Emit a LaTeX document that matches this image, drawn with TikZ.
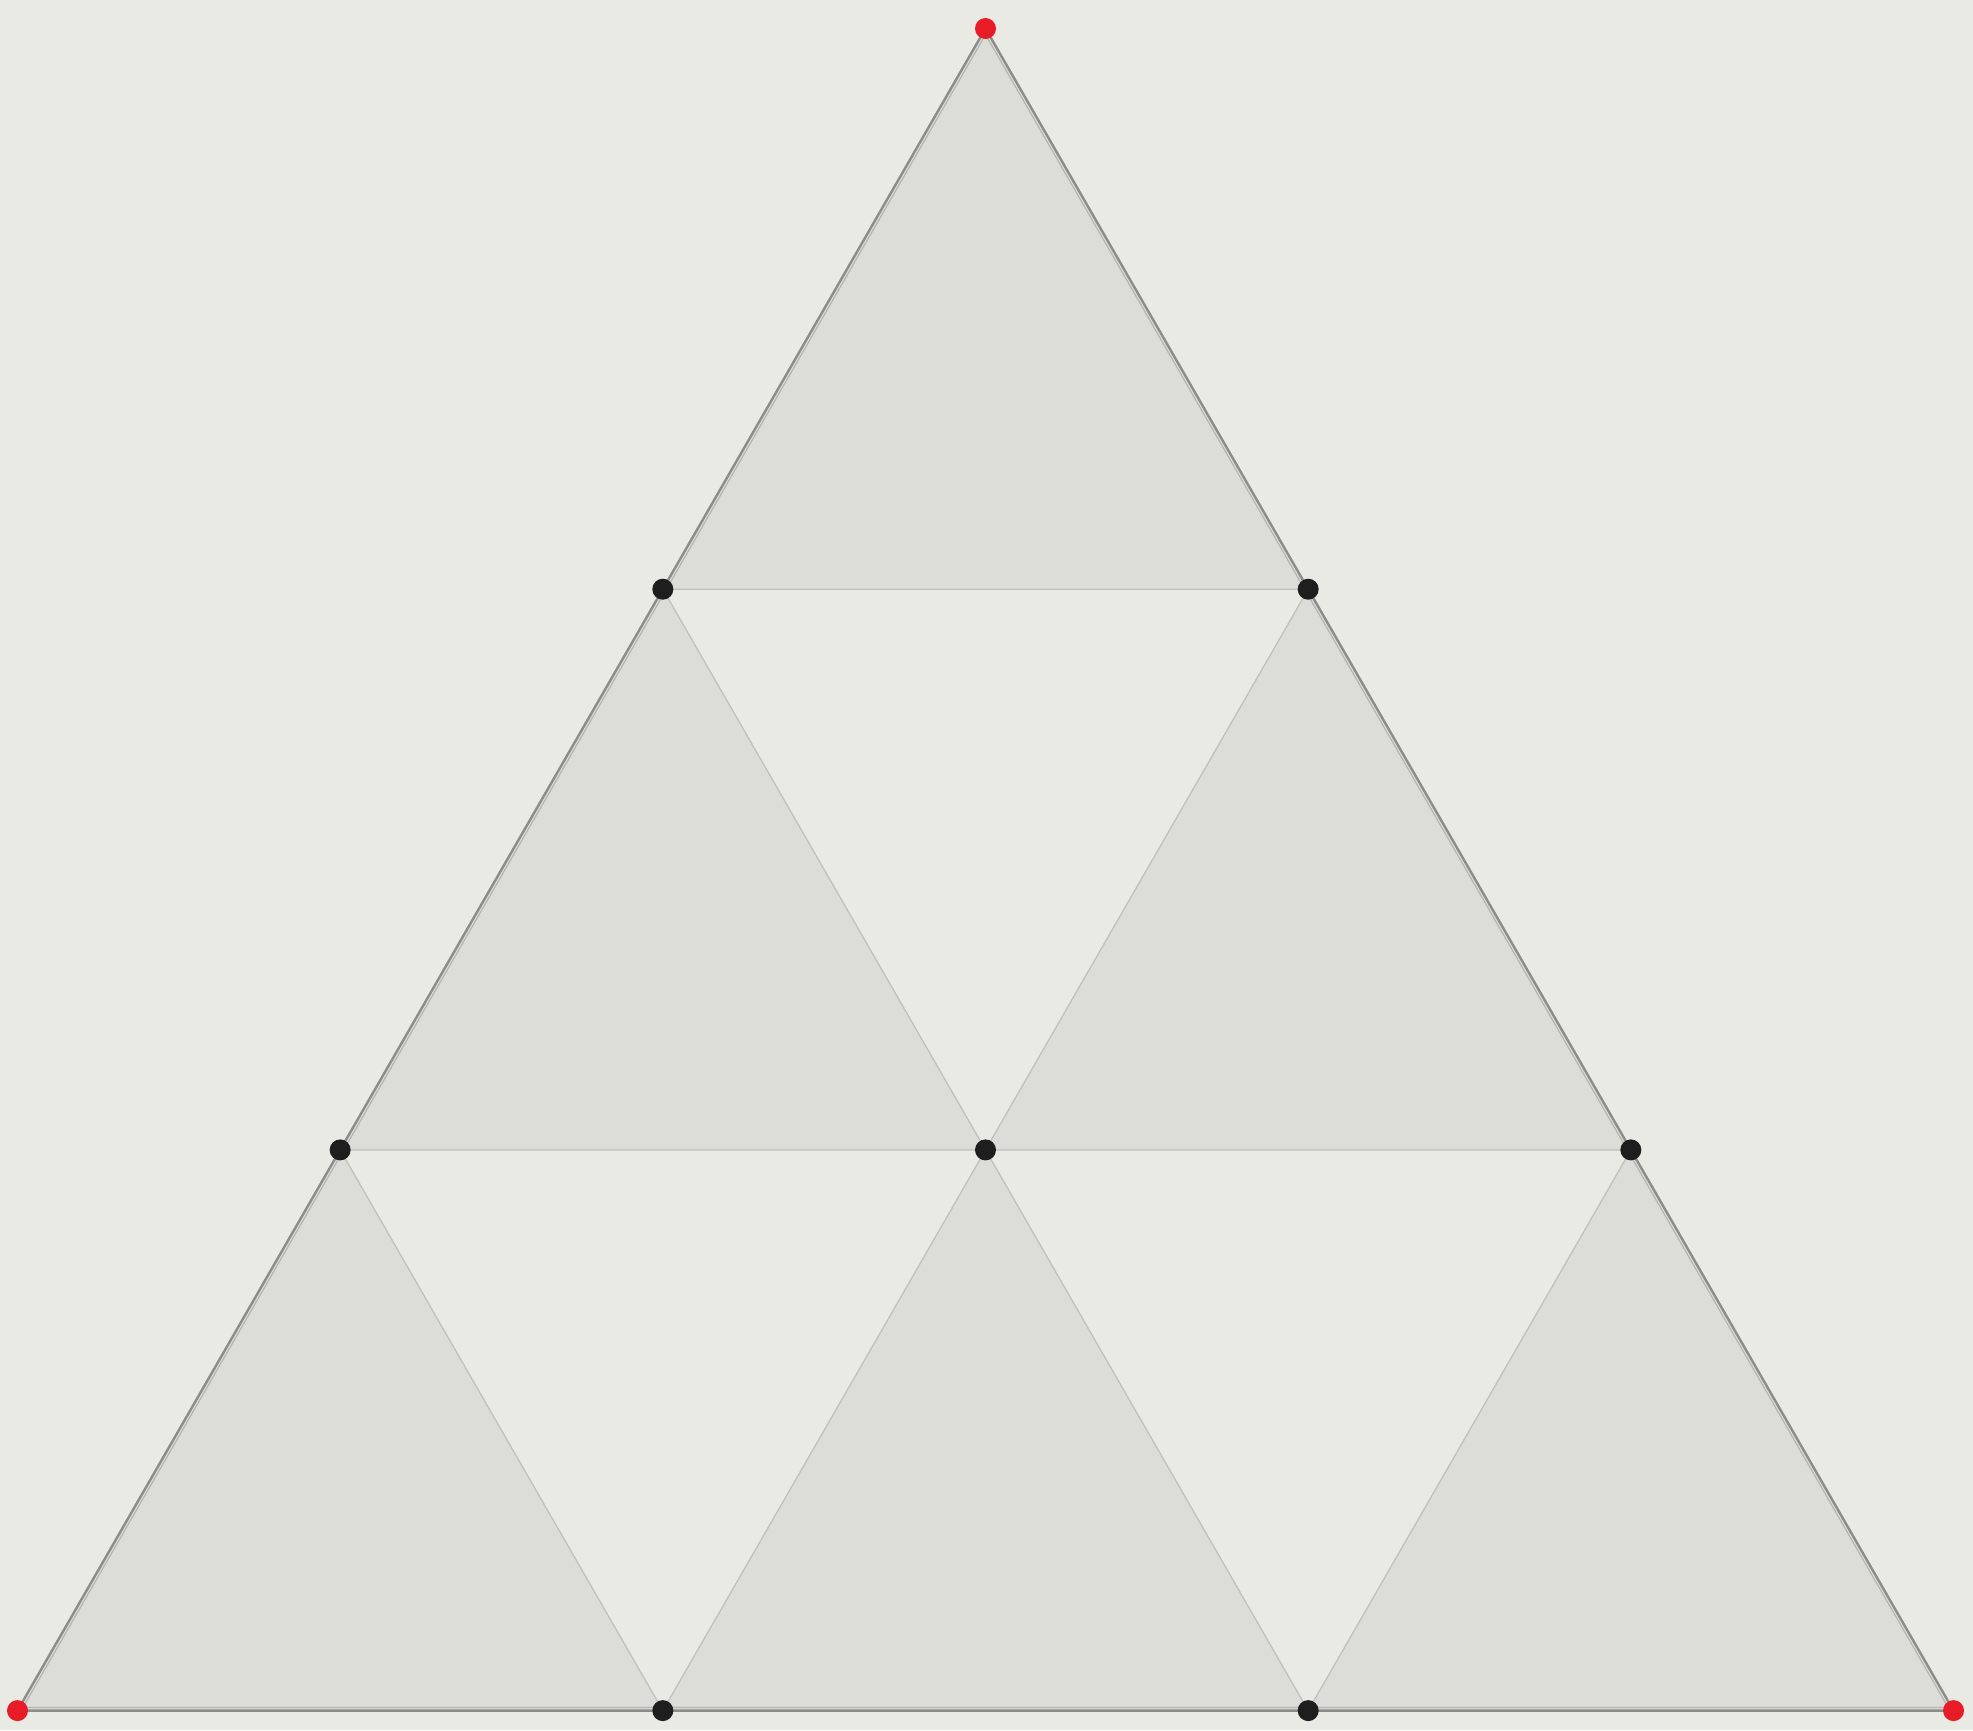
\documentclass[tikz,border=0pt]{standalone}
\usetikzlibrary{calc}
\begin{document}
\begin{tikzpicture}[x=1pt,y=-1pt,
  uptri/.style={fill=trifill, draw=edgecol, line width=1.3pt, line join=round},
  outer/.style={draw=outercol, line width=2.4pt, line join=round},
  innerline/.style={draw=innercol, line width=1.2pt, line join=round},
  blackdot/.style={circle, fill=dotblack, inner sep=0pt, minimum size=21pt},
  reddot/.style={circle, fill=dotred, inner sep=0pt, minimum size=21pt}]
\definecolor{bgcol}{RGB}{234,234,228}
\definecolor{trifill}{RGB}{220,220,216}
\definecolor{edgecol}{RGB}{192,192,188}
\definecolor{outercol}{RGB}{140,140,136}
\definecolor{innercol}{RGB}{180,180,176}
\definecolor{dotblack}{RGB}{30,30,30}
\definecolor{dotred}{RGB}{232,28,38}
\fill[bgcol] (0,0) rectangle (1973,1730);
\useasboundingbox (0,0) rectangle (1973,1730);
\foreach \i in {0,...,3}{
  \foreach \j in {0,...,\i}{
    \coordinate (p\i\j) at ({985.5+(2*\j-\i)*322.67},{28.5+\i*560.7});
  }
}
% upward triangles
\foreach \i/\k in {0/1,1/2,2/3}{
  \foreach \j in {0,...,\i}{
    \pgfmathtruncatemacro{\jj}{\j+1}
    \draw[uptri] (p\i\j) -- (p\k\j) -- (p\k\jj) -- cycle;
  }
}
% inner light line of outer triangle
\coordinate (cen) at ($(p00)!0.6667!($(p30)!0.5!(p33)$)$);
\draw[innerline] ($(cen)!0.9945!(p00)$) -- ($(cen)!0.9945!(p30)$) -- ($(cen)!0.9945!(p33)$) -- cycle;
% outer triangle
\draw[outer] (p00) -- (p30) -- (p33) -- cycle;
% dots
\foreach \n in {p10,p11,p20,p21,p22,p31,p32}{
  \node[blackdot] (d\n) at (\n) {};
}
\foreach \n in {p00,p30,p33}{
  \node[reddot] (d\n) at (\n) {};
}
\end{tikzpicture}
\end{document}
